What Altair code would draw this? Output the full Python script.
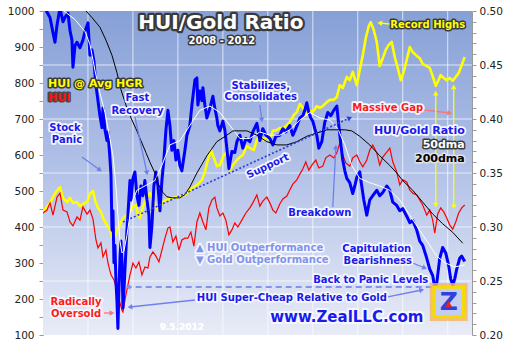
import altair as alt
import pandas as pd

# ---------------- data ----------------
# [decimal year, HUI]
HUI = [[2008.000,439],[2008.044,447],[2008.078,467],[2008.111,433],[2008.156,483],[2008.189,494],[2008.222,447],[2008.267,442],[2008.300,414],[2008.333,403],
[2008.378,428],[2008.411,419],[2008.444,456],[2008.489,436],[2008.522,447],[2008.556,422],[2008.589,364],[2008.611,342],[2008.644,356],[2008.667,317],
[2008.700,336],[2008.722,300],[2008.756,267],[2008.789,253],[2008.822,222],[2008.856,189],[2008.878,169],[2008.889,164],[2008.911,197],[2008.933,225],
[2008.967,267],[2009.000,300],[2009.033,286],[2009.067,303],[2009.100,267],[2009.133,289],[2009.167,286],[2009.189,317],[2009.222,331],[2009.256,319],
[2009.289,303],[2009.322,336],[2009.356,369],[2009.389,397],[2009.411,400],[2009.444,358],[2009.478,375],[2009.511,336],[2009.544,364],[2009.578,369],
[2009.611,369],[2009.644,386],[2009.678,347],[2009.711,414],[2009.744,439],[2009.778,414],[2009.811,392],[2009.844,453],[2009.878,475],[2009.911,483],
[2009.933,453],[2009.967,431],[2010.000,439],[2010.033,419],[2010.067,378],[2010.100,392],[2010.133,411],[2010.167,400],[2010.211,419],[2010.256,439],
[2010.300,453],[2010.333,467],[2010.378,489],[2010.411,458],[2010.444,472],[2010.489,483],[2010.522,467],[2010.556,447],[2010.589,439],[2010.633,464],
[2010.667,478],[2010.711,486],[2010.744,503],[2010.778,519],[2010.822,531],[2010.856,547],[2010.889,561],[2010.922,581],[2010.956,558],[2010.989,572],
[2011.033,586],[2011.067,564],[2011.111,569],[2011.144,592],[2011.189,600],[2011.233,592],[2011.267,606],[2011.300,633],[2011.333,600],[2011.367,578],
[2011.411,569],[2011.444,592],[2011.489,600],[2011.522,581],[2011.556,567],[2011.600,586],[2011.633,614],[2011.667,628],[2011.711,606],[2011.744,572],
[2011.778,594],[2011.822,608],[2011.856,619],[2011.889,581],[2011.933,553],[2011.967,517],[2012.000,531],[2012.044,525],[2012.078,503],[2012.111,494],
[2012.156,489],[2012.189,475],[2012.222,461],[2012.267,433],[2012.300,447],[2012.333,419],[2012.356,383],[2012.389,436],[2012.422,453],[2012.456,442],
[2012.489,425],[2012.522,406],[2012.556,394],[2012.589,414],[2012.622,439],[2012.656,453],[2012.689,461]]

# [decimal year, HUI @ average HUI/gold ratio]
HUI_AVG_HGR = [[2008.000,442],[2008.044,456],[2008.078,467],[2008.111,483],[2008.144,497],[2008.189,511],[2008.222,481],[2008.267,469],[2008.300,481],[2008.333,467],
[2008.378,469],[2008.411,458],[2008.444,464],[2008.489,469],[2008.522,492],[2008.556,500],[2008.578,475],[2008.611,453],[2008.644,442],[2008.678,419],
[2008.711,406],[2008.744,392],[2008.767,372],[2008.800,375],[2008.822,389],[2008.856,406],[2008.889,425],[2008.933,433],[2008.967,442],[2009.000,456],
[2009.033,461],[2009.056,433],[2009.078,425],[2009.111,456],[2009.156,481],[2009.189,494],[2009.222,475],[2009.256,456],[2009.278,447],[2009.322,467],
[2009.367,475],[2009.411,478],[2009.456,481],[2009.500,483],[2009.544,486],[2009.589,492],[2009.633,503],[2009.678,511],[2009.722,519],[2009.767,531],
[2009.800,553],[2009.833,586],[2009.867,614],[2009.900,592],[2009.933,569],[2009.967,572],[2010.011,600],[2010.044,608],[2010.078,558],[2010.111,572],
[2010.156,586],[2010.189,594],[2010.222,600],[2010.267,625],[2010.300,619],[2010.344,614],[2010.378,642],[2010.411,656],[2010.456,642],[2010.489,650],
[2010.522,642],[2010.556,667],[2010.600,669],[2010.633,675],[2010.678,675],[2010.711,683],[2010.744,692],[2010.789,711],[2010.822,719],[2010.856,742],
[2010.889,731],[2010.933,711],[2010.967,722],[2011.000,719],[2011.044,736],[2011.078,731],[2011.111,736],[2011.156,747],[2011.189,753],[2011.233,753],
[2011.267,761],[2011.300,794],[2011.333,786],[2011.378,817],[2011.411,808],[2011.444,831],[2011.489,794],[2011.522,836],[2011.556,878],[2011.589,925],
[2011.622,958],[2011.644,969],[2011.678,947],[2011.711,914],[2011.744,847],[2011.778,869],[2011.811,892],[2011.844,906],[2011.878,914],[2011.911,872],
[2011.944,842],[2011.978,808],[2012.011,831],[2012.044,864],[2012.078,900],[2012.111,886],[2012.144,878],[2012.189,869],[2012.222,853],[2012.267,847],
[2012.300,842],[2012.333,819],[2012.367,792],[2012.389,803],[2012.422,822],[2012.456,814],[2012.489,808],[2012.522,814],[2012.556,806],[2012.589,817],
[2012.622,828],[2012.656,850],[2012.689,872]]

# [decimal year, HUI/gold ratio]
HUI_GOLD_RATIO = [[2008.000,0.506],[2008.022,0.503],[2008.044,0.499],[2008.078,0.494],[2008.111,0.480],[2008.133,0.471],[2008.156,0.487],[2008.189,0.503],[2008.222,0.490],[2008.244,0.494],
[2008.278,0.498],[2008.300,0.482],[2008.322,0.473],[2008.333,0.448],[2008.356,0.468],[2008.378,0.471],[2008.411,0.466],[2008.444,0.473],[2008.467,0.481],[2008.500,0.489],
[2008.522,0.459],[2008.544,0.464],[2008.567,0.453],[2008.589,0.431],[2008.611,0.417],[2008.633,0.403],[2008.656,0.392],[2008.667,0.410],[2008.689,0.390],[2008.711,0.380],
[2008.722,0.388],[2008.744,0.364],[2008.756,0.348],[2008.767,0.297],[2008.778,0.315],[2008.789,0.267],[2008.800,0.283],[2008.811,0.250],[2008.822,0.232],[2008.833,0.206],
[2008.844,0.241],[2008.856,0.272],[2008.867,0.287],[2008.878,0.269],[2008.889,0.225],[2008.900,0.241],[2008.911,0.260],[2008.922,0.278],[2008.933,0.297],[2008.944,0.311],
[2008.967,0.343],[2008.978,0.325],[2009.000,0.345],[2009.022,0.351],[2009.044,0.329],[2009.067,0.320],[2009.089,0.338],[2009.111,0.329],[2009.133,0.343],[2009.156,0.325],
[2009.178,0.311],[2009.189,0.281],[2009.211,0.301],[2009.233,0.338],[2009.256,0.351],[2009.278,0.338],[2009.300,0.315],[2009.322,0.343],[2009.344,0.362],[2009.367,0.390],
[2009.389,0.408],[2009.411,0.394],[2009.433,0.371],[2009.456,0.380],[2009.478,0.362],[2009.500,0.371],[2009.522,0.357],[2009.544,0.352],[2009.578,0.371],[2009.600,0.385],
[2009.633,0.394],[2009.656,0.413],[2009.689,0.436],[2009.711,0.438],[2009.722,0.413],[2009.744,0.426],[2009.767,0.417],[2009.778,0.429],[2009.800,0.413],[2009.822,0.401],
[2009.856,0.410],[2009.889,0.421],[2009.911,0.410],[2009.933,0.401],[2009.944,0.394],[2009.967,0.389],[2010.000,0.398],[2010.022,0.390],[2010.044,0.373],[2010.067,0.354],
[2010.100,0.370],[2010.133,0.369],[2010.156,0.379],[2010.189,0.385],[2010.222,0.373],[2010.256,0.382],[2010.300,0.379],[2010.333,0.388],[2010.378,0.396],[2010.411,0.380],
[2010.444,0.391],[2010.478,0.385],[2010.522,0.382],[2010.556,0.376],[2010.589,0.384],[2010.633,0.385],[2010.667,0.391],[2010.700,0.388],[2010.744,0.394],[2010.778,0.385],
[2010.811,0.391],[2010.856,0.401],[2010.889,0.403],[2010.911,0.408],[2010.933,0.415],[2010.956,0.406],[2010.978,0.401],[2011.000,0.398],[2011.022,0.391],[2011.044,0.385],
[2011.067,0.373],[2011.100,0.379],[2011.133,0.397],[2011.167,0.406],[2011.200,0.403],[2011.233,0.408],[2011.267,0.412],[2011.289,0.394],[2011.311,0.377],[2011.333,0.362],
[2011.356,0.352],[2011.378,0.345],[2011.411,0.341],[2011.444,0.331],[2011.467,0.338],[2011.489,0.346],[2011.522,0.351],[2011.544,0.338],[2011.567,0.325],[2011.600,0.311],
[2011.633,0.325],[2011.667,0.329],[2011.711,0.334],[2011.744,0.329],[2011.778,0.332],[2011.822,0.338],[2011.856,0.334],[2011.889,0.323],[2011.933,0.320],[2011.967,0.315],
[2012.000,0.317],[2012.044,0.310],[2012.078,0.304],[2012.111,0.306],[2012.156,0.297],[2012.189,0.287],[2012.222,0.283],[2012.267,0.271],[2012.300,0.261],[2012.333,0.255],
[2012.356,0.244],[2012.378,0.248],[2012.411,0.271],[2012.444,0.281],[2012.478,0.276],[2012.511,0.264],[2012.533,0.252],[2012.556,0.246],[2012.578,0.252],[2012.600,0.261],
[2012.633,0.271],[2012.656,0.273],[2012.689,0.268]]

RATIO_50DMA = [[2008.000,0.505],[2008.189,0.503],[2008.356,0.492],[2008.467,0.481],[2008.522,0.469],[2008.578,0.445],[2008.633,0.424],[2008.689,0.406],
[2008.744,0.382],[2008.778,0.366],[2008.811,0.338],[2008.833,0.311],[2008.856,0.287],[2008.878,0.276],[2008.900,0.278],[2008.933,0.292],[2008.967,0.311],
[2009.000,0.325],[2009.044,0.334],[2009.133,0.338],[2009.244,0.343],[2009.322,0.357],[2009.411,0.376],[2009.522,0.380],[2009.633,0.394],[2009.744,0.408],
[2009.856,0.412],[2009.967,0.406],[2010.078,0.394],[2010.189,0.382],[2010.300,0.382],[2010.411,0.388],[2010.522,0.385],[2010.633,0.385],[2010.744,0.390],
[2010.856,0.399],[2010.967,0.406],[2011.078,0.401],[2011.189,0.399],[2011.278,0.391],[2011.356,0.376],[2011.433,0.357],[2011.522,0.345],[2011.633,0.341],
[2011.744,0.338],[2011.856,0.334],[2011.967,0.325],[2012.078,0.311],[2012.189,0.297],[2012.300,0.283],[2012.378,0.273],[2012.467,0.267],[2012.578,0.263],
[2012.689,0.265]]

RATIO_200DMA = [[2008.000,0.528],[2008.222,0.515],[2008.467,0.501],[2008.544,0.494],[2008.633,0.485],[2008.700,0.473],[2008.767,0.459],[2008.822,0.443],
[2008.867,0.427],[2008.922,0.413],[2008.978,0.401],[2009.033,0.391],[2009.089,0.380],[2009.144,0.369],[2009.189,0.360],[2009.244,0.350],[2009.278,0.340],
[2009.333,0.332],[2009.378,0.328],[2009.433,0.327],[2009.522,0.327],[2009.578,0.330],[2009.633,0.337],[2009.711,0.350],[2009.822,0.366],[2009.933,0.379],
[2010.044,0.385],[2010.111,0.389],[2010.267,0.389],[2010.378,0.385],[2010.489,0.379],[2010.600,0.376],[2010.711,0.376],[2010.822,0.379],[2010.933,0.384],
[2011.044,0.387],[2011.156,0.390],[2011.267,0.390],[2011.356,0.390],[2011.433,0.389],[2011.522,0.384],[2011.633,0.376],[2011.744,0.366],[2011.856,0.357],
[2011.933,0.350],[2012.000,0.343],[2012.111,0.334],[2012.222,0.323],[2012.333,0.312],[2012.444,0.303],[2012.556,0.295],[2012.667,0.285]]

YEAR_TICKS = [2008, 2009, 2010, 2011, 2012]
HALF_YEAR_GRID = [2008.5, 2009.0, 2009.5, 2010.0, 2010.5, 2011.0, 2011.5, 2012.0, 2012.5]
HUI_TICKS = [100, 150, 200, 250, 300, 350, 400, 450, 500, 550, 600, 650, 700, 750, 800, 850, 900, 950, 1000]
RATIO_TICKS = [0.20, 0.21, 0.22, 0.23, 0.24, 0.25, 0.26, 0.27, 0.28, 0.29, 0.30, 0.31, 0.32, 0.33, 0.34, 0.35,
               0.36, 0.37, 0.38, 0.39, 0.40, 0.41, 0.42, 0.43, 0.44, 0.45, 0.46, 0.47, 0.48, 0.49, 0.50]
RATIO_GRID = [0.25, 0.30, 0.35, 0.40, 0.45]
X_DOMAIN = [2008.0, 2012.77]
HUI_DOMAIN = [100, 1000]
RATIO_DOMAIN = [0.20, 0.50]

# annotations: text, year, HUI-scale position
BLUE_T = "#1a1aeb"
HALO_W = "#f6f7ff"
DARK = "#3a3a3a"
CENTER_TEXTS = [
    ["HUI/Gold Ratio", 2009.978, 966.7, "#ffffff", DARK, 20, 4.5],
    ["2008 - 2012", 2009.989, 916.7, "#ffffff", DARK, 10, 3],
    ["Fast", 2009.05, 758.3, BLUE_T, HALO_W, 10, 3.5],
    ["Recovery", 2009.05, 723.6, BLUE_T, HALO_W, 10, 3.5],
    ["Stock", 2008.244, 675, BLUE_T, HALO_W, 10, 3.5],
    ["Panic", 2008.267, 641, BLUE_T, HALO_W, 10, 3.5],
    ["Stabilizes,", 2010.422, 791.7, BLUE_T, HALO_W, 10, 3.5],
    ["Consolidates", 2010.422, 761.1, BLUE_T, HALO_W, 10, 3.5],
    ["Breakdown", 2011.078, 438.9, BLUE_T, HALO_W, 10, 3.5],
    ["Record Highs", 2012.278, 961.1, "#ffff00", DARK, 10, 3],
    ["Massive Gap", 2011.833, 730.6, "#ff1a1a", HALO_W, 10, 3.5],
    ["Capitulation", 2011.711, 338.9, BLUE_T, HALO_W, 10, 3.5],
    ["Bearishness", 2011.722, 305.6, BLUE_T, HALO_W, 10, 3.5],
    ["Back to Panic Levels", 2011.644, 252.8, BLUE_T, HALO_W, 10, 3.5],
    ["HUI Super-Cheap Relative to Gold", 2010.767, 202.8, BLUE_T, HALO_W, 10, 3.5],
    ["Radically", 2008.367, 191.7, "#ff1a1a", HALO_W, 10, 3.5],
    ["Oversold", 2008.367, 158.3, "#ff1a1a", HALO_W, 10, 3.5],
    ["9.5.2012", 2009.544, 122.2, "#ffffff", "#ffffff", 9, 0],
    ["www.ZealLLC.com", 2011.378, 150, BLUE_T, HALO_W, 15, 4],
]
LEFT_TEXTS = [
    ["HUI @ Avg HGR", 2008.056, 797.2, "#ffff00", DARK, 11, 3],
    ["HUI", 2008.056, 758.3, "#ff1010", "#4a4a4a", 11, 3],
    ["\u25b2 HUI Outperformance", 2009.70, 341.7, "#8193ea", HALO_W, 10, 3.5],
    ["\u25bc Gold Outperformance", 2009.70, 308.3, "#8193ea", HALO_W, 10, 3.5],
]
RIGHT_TEXTS = [
    ["HUI/Gold Ratio", 2012.689, 668.0, BLUE_T, HALO_W, 11, 3.5],
    ["50dma", 2012.689, 627.8, "#ffffff", DARK, 11, 3],
    ["200dma", 2012.689, 588.9, "#000000", "#e2e2e2", 11, 3],
]
SUPPORT_TEXT = [["Support", 2010.50, 569, BLUE_T, HALO_W, 10, 3.5]]

ARROW_BLUE = "#6f80ec"
SALMON = "#f07a7a"
# arrow lines: from (t1, v1) to (t2, v2)
ARROWS = [
    [2009.022, 705.6, 2009.156, 550.0, ARROW_BLUE],
    [2008.433, 594.4, 2008.633, 558.3, ARROW_BLUE],
    [2010.411, 738.9, 2010.433, 697.2, ARROW_BLUE],
    [2011.222, 455.6, 2011.256, 622.2, ARROW_BLUE],
    [2011.856, 963.9, 2011.744, 966.7, "#ffff00"],
    [2012.244, 725.0, 2012.522, 716.7, SALMON],
    [2012.111, 300.0, 2012.244, 286.1, ARROW_BLUE],
    [2009.689, 197.2, 2008.967, 177.8, ARROW_BLUE],
    [2011.833, 205.6, 2012.211, 225.0, ARROW_BLUE],
    [2008.678, 161.1, 2008.767, 161.1, SALMON],
]
GAP_ARROWS = [
    [2012.367, 461.1, 2012.367, 772.2, "#ffff00"],
    [2012.567, 455.6, 2012.567, 788.9, "#ffff00"],
]
HEADS = [  # year, HUI-scale, colour, rotation
    [2009.156, 550.0, ARROW_BLUE, 168], [2008.633, 558.3, ARROW_BLUE, 126],
    [2010.433, 697.2, ARROW_BLUE, 172], [2011.256, 622.2, ARROW_BLUE, 3],
    [2011.744, 966.7, "#ffff00", 276], [2012.522, 716.7, SALMON, 97],
    [2012.244, 286.1, ARROW_BLUE, 113], [2008.967, 177.8, ARROW_BLUE, 264],
    [2012.211, 225.0, ARROW_BLUE, 78], [2008.767, 161.1, SALMON, 90],
    [2012.367, 772.2, "#ffff00", 0], [2012.367, 461.1, "#ffff00", 180],
    [2012.567, 788.9, "#ffff00", 0], [2012.567, 455.6, "#ffff00", 180],
    [2008.944, 233.3, "#8494ee", 270], [2011.411, 703.0, "#2b3be0", 65],
]
PANIC_LEVEL = [[2012.322, 2008.944, 233.3]]
SUPPORT_LINE = [[2008.889, 414.0, 2011.411, 703.0]]
LOGO = [[2012.511, 191.7]]

# ---------------- chart ----------------
W, H = 429, 324
FONT = "DejaVu Sans"
xs = alt.Scale(domain=X_DOMAIN, nice=False, zero=False)
hs = alt.Scale(domain=HUI_DOMAIN, nice=False, zero=False)
rs = alt.Scale(domain=RATIO_DOMAIN, nice=False, zero=False)


def X(f="t"):
    return alt.X(f"{f}:Q", scale=xs, axis=None)


def YH(f="v"):
    return alt.Y(f"{f}:Q", scale=hs, axis=None)


def YR(f="r"):
    return alt.Y(f"{f}:Q", scale=rs, axis=None)


x_axis = alt.Axis(values=YEAR_TICKS, format="d", grid=False, title=None, labelFlush=False,
                  labelOverlap=False, tickSize=4, labelPadding=5)
left_axis = alt.Axis(orient="left", values=HUI_TICKS, format="d", grid=False, title=None,
                     labelExpr="datum.value % 100 === 0 ? datum.label : ''",
                     labelOverlap=False, tickSize=4, labelPadding=5)
right_axis = alt.Axis(orient="right", values=RATIO_TICKS, format=".2f", grid=False, title=None,
                      labelExpr="round(datum.value * 100) % 5 === 0 ? datum.label : ''",
                      labelOverlap=False, tickSize=4, labelPadding=3)

bg_df = pd.DataFrame({"x0": [X_DOMAIN[0]], "x1": [X_DOMAIN[1]], "y0": [HUI_DOMAIN[0]], "y1": [HUI_DOMAIN[1]]})
bg = alt.Chart(bg_df).mark_rect(
    fill=alt.Gradient(gradient="linear",
                      stops=[alt.GradientStop(color="#86a0d6", offset=0),
                             alt.GradientStop(color="#b3c2e8", offset=0.5),
                             alt.GradientStop(color="#e9ecf7", offset=1)],
                      x1=0, x2=0, y1=0, y2=1)
).encode(x=alt.X("x0:Q", scale=xs, axis=x_axis), x2="x1", y=alt.Y("y0:Q", scale=hs, axis=left_axis), y2="y1")
vgrid = alt.Chart(pd.DataFrame({"g": HALF_YEAR_GRID})).mark_rule(
    color="white", strokeWidth=1, opacity=0.7).encode(x=X("g"))
hgrid = alt.Chart(pd.DataFrame({"r": RATIO_GRID})).mark_rule(
    color="white", strokeWidth=1, opacity=0.7).encode(y=alt.Y("r:Q", scale=rs, axis=right_axis))

yellow = alt.Chart(pd.DataFrame(HUI_AVG_HGR, columns=["t", "v"])).mark_line(
    color="#ffff00", strokeWidth=2.6, clip=True, strokeJoin="round").encode(x=X(), y=YH())
red = alt.Chart(pd.DataFrame(HUI, columns=["t", "v"])).mark_line(
    color="#ff0000", strokeWidth=1.2, clip=True).encode(x=X(), y=YH())

blue = alt.Chart(pd.DataFrame(HUI_GOLD_RATIO, columns=["t", "r"])).mark_line(
    color="#0000ff", strokeWidth=3, clip=True, strokeJoin="round").encode(x=X(), y=YR())
white = alt.Chart(pd.DataFrame(RATIO_50DMA, columns=["t", "r"])).mark_line(
    color="#ffffff", strokeWidth=1, clip=True).encode(x=X(), y=YR())
black = alt.Chart(pd.DataFrame(RATIO_200DMA, columns=["t", "r"])).mark_line(
    color="#000000", strokeWidth=1, clip=True).encode(x=X(), y=YR())

cols = ["text", "t", "v", "fill", "halo", "size", "sw"]


def text_layers(rows, align, angle=0):
    df = pd.DataFrame(rows, columns=cols)
    base = alt.Chart(df).encode(x=X(), y=YH(), text="text:N", size=alt.Size("size:Q", scale=None))
    kw = dict(align=align, baseline="middle", font=FONT, fontWeight="bold", angle=angle)
    halo = base.mark_text(strokeJoin="round", **kw).encode(
        fill=alt.Fill("halo:N", scale=None), stroke=alt.Stroke("halo:N", scale=None),
        strokeWidth=alt.StrokeWidth("sw:Q", scale=None))
    front = base.mark_text(**kw).encode(fill=alt.Fill("fill:N", scale=None))
    return [halo, front]


arrows = alt.Chart(pd.DataFrame(ARROWS + GAP_ARROWS, columns=["t1", "v1", "t2", "v2", "color"])).mark_rule(
    strokeWidth=1.3).encode(x=X("t1"), x2="t2", y=YH("v1"), y2="v2", color=alt.Color("color:N", scale=None))
panic = alt.Chart(pd.DataFrame(PANIC_LEVEL, columns=["t1", "t2", "v"])).mark_rule(
    strokeWidth=2, strokeDash=[6, 4], color="#8494ee").encode(x=X("t1"), x2="t2", y=YH("v"))
support = alt.Chart(pd.DataFrame(SUPPORT_LINE, columns=["t1", "v1", "t2", "v2"])).mark_rule(
    strokeWidth=1.6, strokeDash=[2, 2], color="#2b3be0").encode(x=X("t1"), x2="t2", y=YH("v1"), y2="v2")
heads = alt.Chart(pd.DataFrame(HEADS, columns=["t", "v", "color", "ang"])).mark_point(
    shape="triangle-up", filled=True, size=30, opacity=1).encode(
    x=X(), y=YH(), fill=alt.Fill("color:N", scale=None), angle=alt.Angle("ang:Q", scale=None))

logo_df = pd.DataFrame(LOGO, columns=["t", "v"])
logo_glow = alt.Chart(logo_df).mark_point(shape="square", size=1150, filled=False,
                                          stroke="#f6b46a", strokeWidth=4, opacity=0.8).encode(x=X(), y=YH())
logo_box = alt.Chart(logo_df).mark_point(shape="square", size=880, filled=True, fill="#c4ccf3",
                                         stroke="#f4dc00", strokeWidth=3, opacity=1).encode(x=X(), y=YH())
logo_z = alt.Chart(logo_df).mark_text(text="Z", font=FONT, fontWeight="bold", fontSize=25,
                                      color="#3040d8", baseline="middle", align="center").encode(x=X(), y=YH())
logo_fan = alt.Chart(logo_df).mark_point(shape="triangle-up", filled=True, size=45, fill="#ee2020",
                                         opacity=1, yOffset=2).encode(x=X(), y=YH())

layers = [bg, vgrid, hgrid, yellow, red, blue, white, black,
          arrows, panic, support, heads, logo_glow, logo_box, logo_z, logo_fan]
layers += text_layers(CENTER_TEXTS, "center")
layers += text_layers(LEFT_TEXTS, "left")
layers += text_layers(RIGHT_TEXTS, "right")
layers += text_layers(SUPPORT_TEXT, "center", angle=335)

chart = alt.layer(*layers).resolve_scale(y="independent").properties(
    width=W, height=H,
    autosize=alt.AutoSizeParams(type="none"),
    padding={"left": 43, "top": 11, "right": 39, "bottom": 24},
    background="white",
).configure_axis(
    labelFont=FONT, labelFontSize=10.5, labelColor="#222222",
    domainColor="#9a9a9a", tickColor="#9a9a9a",
).configure_view(stroke=None)

chart.save("out.html", embed_options={"renderer": "svg", "actions": False})
